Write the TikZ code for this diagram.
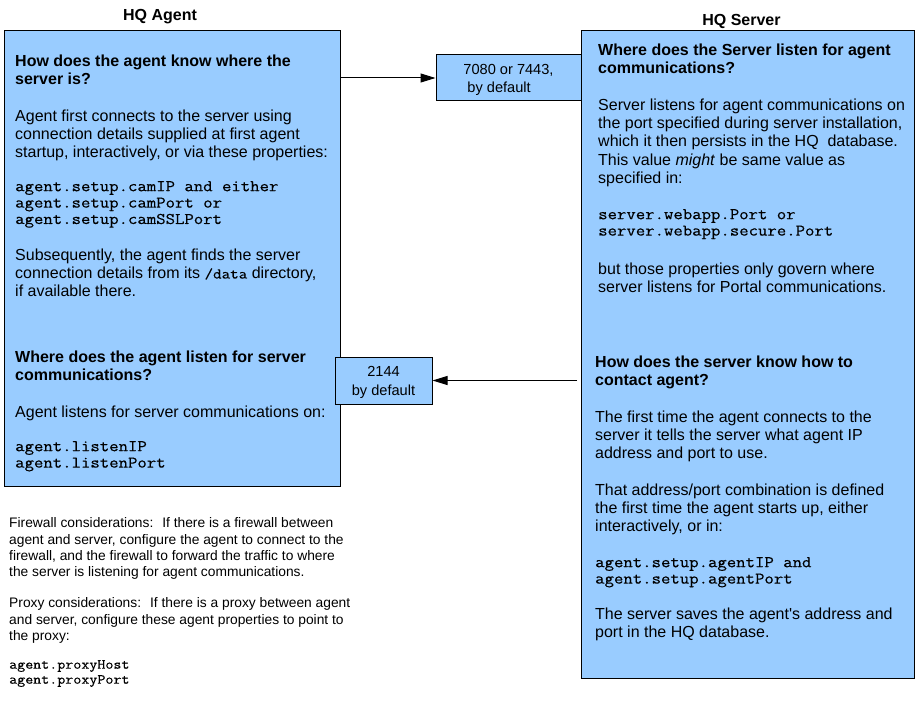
\documentclass[tikz,border=0pt]{standalone}
\usepackage{fontspec}
\setmainfont{Liberation Sans}
\setmonofont{Latin Modern Mono}[FakeBold=0.4, FakeStretch=1.12]
\usetikzlibrary{arrows.meta}
\definecolor{boxblue}{HTML}{99CCFF}
\newcommand\myst{\rule{0pt}{12pt}}
\newcommand\mysts{\rule{0pt}{10.5pt}}
\begin{document}
\begin{tikzpicture}[x=1pt,y=-1pt,
  bluebox/.style={draw=black, line width=1pt, fill=boxblue, inner sep=0pt, anchor=north west},
  para/.style={anchor=north west, inner sep=0pt, align=left, font=\fontsize{16}{18.3}\selectfont},
  hdrp/.style={para, font=\fontsize{16}{18.3}\selectfont\bfseries},
  monop/.style={para, font=\fontsize{16.3}{16.4}\selectfont\ttfamily},
  notep/.style={para, font=\fontsize{13.8}{16.3}\selectfont},
  notemono/.style={para, font=\fontsize{13.9}{15}\selectfont\ttfamily},
  portbox/.style={draw=black, line width=1pt, fill=boxblue, inner sep=0pt, anchor=center, align=left, font=\fontsize{14.6}{18.5}\selectfont},
  title/.style={anchor=base, inner sep=0pt, font=\fontsize{16}{18}\selectfont\bfseries},
  conn/.style={line width=1pt, -{Triangle[length=15pt,width=9pt]}}
]
\useasboundingbox (0,0) rectangle (918,714);

% titles
\node[title] (tagent) at (160,21) {HQ Agent};
\node[title] (tserver) at (741.5,26) {HQ Server};

% main boxes
\node[bluebox, minimum width=336pt, minimum height=456pt] (agent) at (4,30) {};
\node[bluebox, minimum width=333pt, minimum height=648pt] (server) at (581,30) {};

% port boxes
\node[portbox, minimum width=145pt, minimum height=46pt] (p1) at (508.5,78) {\rule{0pt}{14pt}7080 or 7443,\\\hspace*{4pt}by default};
\node[portbox, align=center, minimum width=97pt, minimum height=47pt] (p2) at (383.5,380.5) {\rule{0pt}{14pt}2144\\by default};

% connectors
\draw[conn] (agent.east |- p1.west) -- (p1.west);
\draw[conn, shorten <=4pt] (server.west |- p2.east) -- (p2.east);

% agent box text
\node[hdrp] (a1) at (15,54) {\myst How does the agent know where the\\server is?};
\node[para] (a2) at (15,109) {\myst Agent first connects to the server using\\connection details supplied at first agent\\startup, interactively, or via these properties:};
\node[monop] (a3) at (15,179) {\myst agent.setup.camIP and either\\agent.setup.camPort or\\agent.setup.camSSLPort};
\node[para] (a4) at (15,248) {\myst Subsequently, the agent finds the server\\connection details from its {\fontsize{14.8}{18.3}\selectfont\ttfamily/data} directory,\\if available there.};
\node[hdrp] (a5) at (15,350) {\myst Where does the agent listen for server\\communications?};
\node[para] (a6) at (15,405) {\myst Agent listens for server communications on:};
\node[monop] (a7) at (15,439) {\myst agent.listenIP\\agent.listenPort};

% server box text
\node[hdrp] (s1) at (598,43) {\myst Where does the Server listen for agent\\communications?};
\node[para] (s2) at (598,98) {\myst Server listens for agent communications on\\the port specified during server installation,\\which it then persists in the HQ~ database.\\This value \textit{might} be same value as\\specified in:};
\node[monop] (s3) at (598,207) {\myst server.webapp.Port or\\server.webapp.secure.Port};
\node[para] (s4) at (598,262) {\myst but those properties only govern where\\server listens for Portal communications.};
\node[hdrp] (s5) at (595,355) {\myst How does the server know how to\\contact agent?};
\node[para] (s6) at (595,410) {\myst The first time the agent connects to the\\server it tells the server what agent IP\\address and port to use.};
\node[para] (s7) at (595,483) {\myst That address/port combination is defined\\the first time the agent starts up, either\\interactively, or in:};
\node[monop] (s8) at (595,555) {\myst agent.setup.agentIP and\\agent.setup.agentPort};
\node[para] (s9) at (595,607) {\myst The server saves the agent\textquotesingle s address and\\port in the HQ database.};

% notes below
\node[notep] (n1) at (9,517) {\mysts Firewall considerations:~ If there is a firewall between\\agent and server, configure the agent to connect to the\\firewall, and the firewall to forward the traffic to where\\the server is listening for agent communications.};
\node[notep] (n2) at (9,597) {\mysts Proxy considerations:~ If there is a proxy between agent\\and server, configure these agent properties to point to\\the proxy:};
\node[notemono] (n3) at (9,658) {\mysts agent.proxyHost\\agent.proxyPort};
\end{tikzpicture}
\end{document}
